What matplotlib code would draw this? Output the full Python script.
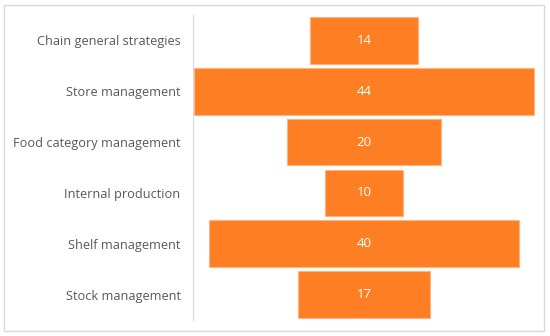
import numpy as np
import matplotlib.pyplot as plt
from matplotlib.patches import Rectangle

categories = ["Chain general strategies", "Store management", "Food category management",
              "Internal production", "Shelf management", "Stock management"]
values = [14, 44, 20, 10, 40, 17]

plt.rcParams['font.family'] = ['Open Sans', 'DejaVu Sans']

fig = plt.figure(figsize=(5.5, 3.36), dpi=100)
ax = fig.add_axes([193 / 550, 1 - 320 / 336, 342 / 550, 305 / 336])

# outer frame
fig.patches.append(Rectangle((4 / 550, 5 / 336), 540 / 550, 326 / 336, transform=fig.transFigure,
                             fill=False, edgecolor='#d9d9d9', linewidth=1))

y = np.arange(len(categories))
vals = np.array(values)
ax.barh(y, vals, left=-vals / 2, height=0.92, color='#fe7f23', edgecolor='#ffb380', linewidth=0.8)
for yi, v in zip(y, vals):
    ax.text(0, yi, str(v), ha='center', va='center', color='white', fontsize=9.5)

ax.set_xlim(-22.1, 22.1)
ax.set_ylim(len(categories) - 0.5, -0.5)
ax.set_yticks(y)
ax.set_yticklabels(categories, fontsize=9.2, color='#595959')
ax.tick_params(axis='y', length=0, pad=9)
ax.set_xticks([])
for s in ['top', 'right', 'bottom']:
    ax.spines[s].set_visible(False)
ax.spines['left'].set_color('#d9d9d9')

fig.savefig('out.png', dpi=100)
